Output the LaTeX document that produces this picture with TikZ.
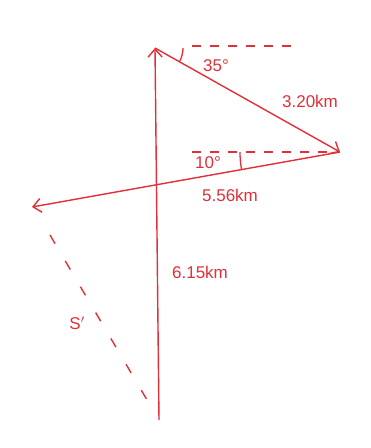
\documentclass[tikz,border=0pt]{standalone}
\usepackage{fontspec}
\setmainfont{Liberation Sans}
\usetikzlibrary{arrows.meta}
\definecolor{ink}{RGB}{226,48,58}
\begin{document}
\begin{tikzpicture}[x=1pt,y=-1pt,
  vec/.style={draw=ink,line width=1.4pt,-{Straight Barb[length=8pt,width=14pt]}},
  guide/.style={draw=ink,line width=1.4pt,dash pattern=on 9pt off 9pt},
  lbl/.style={text=ink,font=\fontsize{17}{19}\selectfont,inner sep=1pt}]
\useasboundingbox[fill=white] (0,0) rectangle (371,448);
\coordinate (D) at (159,420);
\coordinate (A) at (155,48);
\coordinate (B) at (340,152);
\coordinate (C) at (32,207);
\coordinate (Ahr) at (295,46);
\coordinate (Ahl) at (192,46);
\coordinate (Bhl) at (192,152);
\coordinate (Bhr) at (330,152);
\coordinate (Cs) at (50,235);
\coordinate (De) at (150,405);
\draw[vec] (D) -- (A);
\draw[vec] (A) -- (B);
\draw[vec] (B) -- (C);
\draw[guide] (Ahl) -- (Ahr);
\draw[guide] (Bhl) -- (Bhr);
\draw[guide,dash pattern=on 10pt off 20pt] (Cs) -- (De);
\draw[draw=ink,line width=1.3pt] ([shift={(28,0)}]A) arc[start angle=0,end angle=30,radius=28];
\draw[draw=ink,line width=1.3pt] ([shift={(-100,0)}]B) arc[start angle=180,end angle=170,radius=100];
\node[lbl] (t35) at (216,66) {35°};
\node[lbl] (t320) at (310,101) {3.20km};
\node[lbl] (t10) at (208,163) {10°};
\node[lbl] (t556) at (230,195) {5.56km};
\node[lbl] (t615) at (200,272) {6.15km};
\node[lbl] (ts) at (77,323) {S$'$};
\end{tikzpicture}
\end{document}
